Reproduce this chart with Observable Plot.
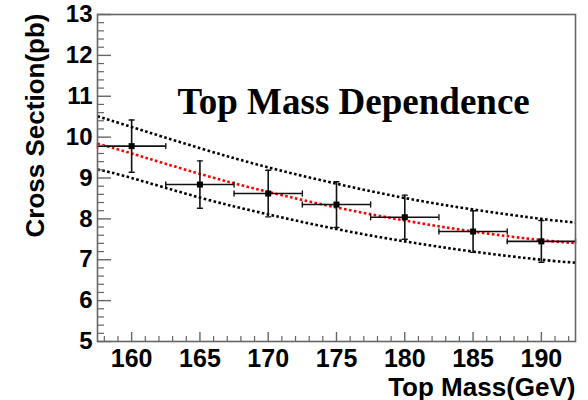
<!DOCTYPE html>
<html><head><meta charset="utf-8">
<script src="https://cdn.jsdelivr.net/npm/d3@7"></script>
<script src="https://cdn.jsdelivr.net/npm/@observablehq/plot@0.6"></script>
<style>body{margin:0;background:#fff} #chart{position:absolute;left:0;top:0}</style>
</head><body><div id="chart"></div>
<script>
// Measured points
const mass = [160, 165, 170, 175, 180, 185, 190];
const xsec = [9.78, 8.84, 8.62, 8.35, 8.04, 7.69, 7.45];
const yErr = [0.64, 0.58, 0.57, 0.56, 0.54, 0.51, 0.51];
const xErrHalf = 2.5;
// Fit curve and band
const curveMass = [157.5, 160, 165, 170, 175, 180, 185, 190, 192.5];
const fitCentral = [9.84, 9.60, 9.10, 8.66, 8.28, 7.96, 7.69, 7.48, 7.41];
const fitUpper = [10.51, 10.25, 9.73, 9.26, 8.86, 8.51, 8.23, 8.00, 7.91];
const fitLower = [9.21, 9.00, 8.52, 8.11, 7.75, 7.45, 7.20, 7.00, 6.93];
// Axis ticks and texts
const xMajor = [160, 165, 170, 175, 180, 185, 190];
const yMajor = [5, 6, 7, 8, 9, 10, 11, 12, 13];
const titleText = "Top Mass Dependence";
const xTitle = "Top Mass(GeV)";
const yTitle = "Cross Section(pb)";

const xDomain = [157.5, 192.5];
const yDomain = [5, 13];

const points = mass.map((m, i) => ({m, v: xsec[i], lo: xsec[i] - yErr[i], hi: xsec[i] + yErr[i], x1: m - xErrHalf, x2: m + xErrHalf}));
const curves = curveMass.map((m, i) => ({m, c: fitCentral[i], u: fitUpper[i], l: fitLower[i]}));

const xMinor = d3.range(158, 193, 1).filter(v => !xMajor.includes(v));
const yMinor = d3.range(50, 131, 2).map(v => v / 10).filter(v => !yMajor.includes(v));

const capShape = {draw(ctx, l) { ctx.moveTo(0, 0); ctx.lineTo(0, -l); }};

const sans = "'Liberation Sans', Arial, Helvetica, sans-serif";
const serif = "'Liberation Serif', 'Times New Roman', serif";
const axisColor = "#666";
const dashStyle = {strokeWidth: 2.6, strokeDasharray: "2.6,2.4", strokeLinecap: "butt", curve: "natural"};

const chart = Plot.plot({
  width: 588,
  height: 400,
  marginLeft: 97,
  marginRight: 13,
  marginTop: 14,
  marginBottom: 59,
  style: {background: "#fff", overflow: "visible"},
  x: {domain: xDomain},
  y: {domain: yDomain},
  marks: [
    // fit band and central curve
    Plot.line(curves, {x: "m", y: "u", stroke: "#000", ...dashStyle}),
    Plot.line(curves, {x: "m", y: "l", stroke: "#000", ...dashStyle}),
    Plot.line(curves, {x: "m", y: "c", stroke: "#ff0000", ...dashStyle}),
    // error bars
    Plot.ruleX(points, {x: "m", y1: "lo", y2: "hi", stroke: "#111", strokeWidth: 1.6}),
    Plot.ruleY(points, {y: "v", x1: "x1", x2: "x2", stroke: "#111", strokeWidth: 1.6}),
    Plot.vector(points, {x: "x1", y: "v", length: 5, anchor: "middle", rotate: 0, shape: capShape, stroke: "#111", strokeWidth: 1.4}),
    Plot.vector(points, {x: "x2", y: "v", length: 5, anchor: "middle", rotate: 0, shape: capShape, stroke: "#111", strokeWidth: 1.4}),
    Plot.vector(points, {x: "m", y: "lo", length: 5, anchor: "middle", rotate: 90, shape: capShape, stroke: "#111", strokeWidth: 1.4}),
    Plot.vector(points, {x: "m", y: "hi", length: 5, anchor: "middle", rotate: 90, shape: capShape, stroke: "#111", strokeWidth: 1.4}),
    Plot.dot(points, {x: "m", y: "v", symbol: "square", r: 3.4, fill: "#000", stroke: "none"}),
    // inward ticks
    Plot.axisY(yMajor, {tickSize: -14, text: null, label: null, stroke: axisColor, strokeWidth: 1.4}),
    Plot.axisY(yMinor, {tickSize: -7, text: null, label: null, stroke: axisColor, strokeWidth: 1.2}),
    Plot.axisX(xMajor, {tickSize: -9, text: null, label: null, stroke: axisColor, strokeWidth: 1.4}),
    Plot.axisX(xMinor, {tickSize: -5, text: null, label: null, stroke: axisColor, strokeWidth: 1.2}),
    // tick labels
    Plot.axisY(yMajor, {tickSize: 0, tickPadding: 5, label: null, fontSize: 24, fontWeight: "bold", fontFamily: sans, fill: "#000"}),
    Plot.axisX(xMajor, {tickSize: 0, tickPadding: 8, label: null, fontSize: 25, fontWeight: "bold", fontFamily: sans, fill: "#000"}),
    Plot.frame({stroke: axisColor, strokeWidth: 1.6}),
    // titles
    Plot.text([titleText], {text: d => d, frameAnchor: "top-left", dx: 80, dy: 99, textAnchor: "start", lineAnchor: "bottom", fontFamily: serif, fontWeight: "bold", fontSize: 37, fill: "#000"}),
    Plot.text([xTitle], {text: d => d, frameAnchor: "bottom-right", dx: 0, dy: 54, textAnchor: "end", lineAnchor: "bottom", fontFamily: sans, fontWeight: "bold", fontSize: 26, fill: "#000"}),
    Plot.text([yTitle], {text: d => d, frameAnchor: "top-left", dx: -54, dy: -1, rotate: -90, textAnchor: "end", lineAnchor: "bottom", fontFamily: sans, fontWeight: "bold", fontSize: 26, fill: "#000"})
  ]
});
document.getElementById("chart").appendChild(chart);
</script>
</body></html>
